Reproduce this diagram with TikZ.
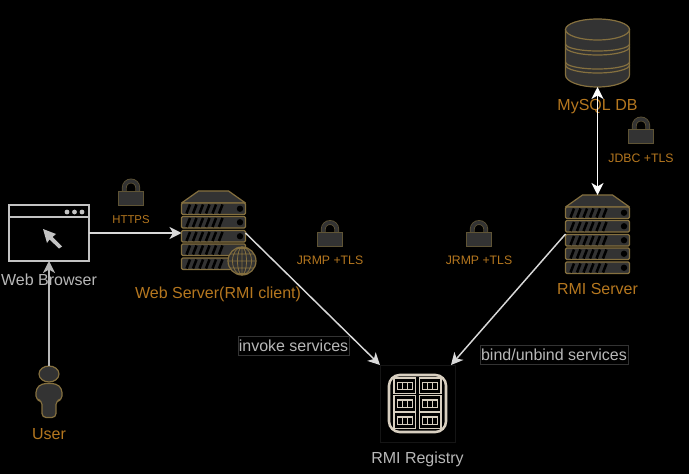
\documentclass[tikz,border=0pt]{standalone}
\usepackage{fontspec}
\setmainfont{Liberation Sans}
\usepackage{xcolor}
\usetikzlibrary{arrows.meta}
\definecolor{iconfill}{HTML}{333333}
\definecolor{icongold}{HTML}{85703F}
\definecolor{lockgold}{HTML}{5F5435}
\definecolor{textgold}{HTML}{B5771F}
\definecolor{textgrey}{HTML}{B8B8B8}
\definecolor{registryline}{HTML}{D8CFC0}
\definecolor{registryedge}{HTML}{151515}
\tikzstyle{iconbox} = [rectangle,inner sep=0pt,outer sep=0pt]
\tikzstyle{caption} = [inner sep=0pt,text=textgold,font=\fontsize{12pt}{14pt}\selectfont]
\tikzstyle{smallcaption} = [inner sep=0pt,text=textgold,font=\fontsize{8.5pt}{10pt}\selectfont]
\tikzstyle{widecaption} = [inner sep=0pt,text=textgold,font=\fontsize{9.2pt}{10pt}\selectfont]
\tikzstyle{linklabel} = [rectangle,draw=iconfill,line width=0.5pt,fill=black,text=textgrey,inner sep=0pt,minimum height=14.25pt,font=\fontsize{12pt}{14pt}\selectfont]
\tikzstyle{icon} = [draw=icongold,fill=iconfill,line width=0.9pt,line join=round]
\tikzstyle{arrow} = [line width=1.1pt,draw=#1,-{Stealth[length=9pt,width=9pt,inset=2.6pt]}]
\tikzset{
  serverpic/.pic={
    \draw [icon] (-32,-27) -- (-15,-39) -- (15,-39) -- (32,-27) -- cycle;
    \foreach \rowy in {-27,-13.5,0.5,14,28} {
      \draw [icon,rounded corners=1pt] (-32,\rowy) rectangle (32,\rowy+11.5);
      \foreach \slashx in {-27,-20.5,-14,-7.5,-1,5.5}
        \draw [black,line width=1.9pt] (\slashx,\rowy+10.5) -- (\slashx+3.5,\rowy+1.5);
      \fill [black] (26.5,\rowy+5.75) circle (3.2);
    }
  },
  globepic/.pic={
    \draw [icon] (0,0) circle (14);
    \draw [icongold,line width=0.6pt] (0,-14) -- (0,14) (-14,0) -- (14,0)
      (0,0) ellipse (4.5 and 14) (0,0) ellipse (9.5 and 14)
      (-12,-7) -- (12,-7) (-12,7) -- (12,7) (-6,-12.5) -- (6,-12.5) (-6,12.5) -- (6,12.5);
  },
  lockpic/.pic={
    \draw [lockgold,line width=3.6pt] (-6.7,0) -- (-6.7,-5) arc (180:360:6.7 and 6.5) -- (6.7,0);
    \draw [iconfill,line width=2.4pt] (-6.7,0) -- (-6.7,-5) arc (180:360:6.7 and 6.5) -- (6.7,0);
    \draw [fill=iconfill,draw=lockgold,line width=0.6pt] (-12.5,-1.5) rectangle (12.5,12.5);
  },
  dbpic/.pic={
    \draw [icon] (-32,-23.5) -- (-32,22) arc (180:0:32 and 12) -- (32,-23.5) -- cycle;
    \draw [icon] (0,-23.5) ellipse (32 and 10.5);
    \foreach \bandy/\bandr in {-9/7,-6/8,9/7,12/8}
      \draw [icongold,line width=0.9pt] (-32,\bandy) arc (180:0:32 and \bandr);
  },
  userpic/.pic={
    \draw [icon] (0,-17.5) ellipse (10 and 8);
    \draw [icon,rounded corners=3pt] (-7,-8) -- (7,-8) -- (13,-3) -- (13,8.5) -- (7,9) -- (7,26) -- (-7,26) -- (-7,9) -- (-13,8.5) -- (-13,-3) -- cycle;
  },
  browserpic/.pic={
    \draw [textgrey!85!white,line width=1.4pt] (-40,-28) rectangle (40,28) (-40,-16) -- (40,-16);
    \foreach \dotx in {18,25.5,33}
      \fill [textgrey!85!white] (\dotx,-21) circle (2.4);
    \fill [textgrey!85!white] (-6,-4) -- (7,1) -- (3.5,4) -- (13,13.5) -- (10,15.5) -- (0.5,6.5) -- (-2,10) -- cycle;
  },
  registrypic/.pic={
    \draw [registryline,line width=1.9pt,rounded corners=8pt] (-28.5,-28.5) rectangle (28.5,28.5);
    \foreach \celly in {-17.8,0,17} \foreach \cellx in {-12.75,12.75} {
      \draw [registryline,line width=1.1pt] (\cellx-10.8,\celly-7.8) rectangle (\cellx+10.8,\celly+7.8);
      \draw [registryline,line width=0.9pt] (\cellx-7.5,\celly-3.6) rectangle (\cellx+7.5,\celly+3.6)
        (\cellx-2.5,\celly-3.6) -- (\cellx-2.5,\celly+3.6) (\cellx+2.5,\celly-3.6) -- (\cellx+2.5,\celly+3.6);
    }
  }
}
\begin{document}
\begin{tikzpicture}[x=0.75pt,y=-0.75pt]
\fill [black] (0,0) rectangle (689,474);
\useasboundingbox (0,0) rectangle (689,474);

% icons
\node (browser) [iconbox,minimum width=60pt,minimum height=42pt] at (49,233) {};
\node (webserver) [iconbox,minimum width=48pt,minimum height=58.5pt] at (213.5,230) {};
\node (rmiserver) [iconbox,minimum width=48pt,minimum height=58.5pt] at (597.5,234) {};
\node (mysql) [iconbox,minimum width=48pt,minimum height=51pt] at (597.5,53) {};
\node (user) [iconbox,minimum width=19.5pt,minimum height=38.25pt] at (49,391.5) {};
\node (registry) [iconbox,draw=registryedge,line width=0.4pt,fill=black,minimum width=56.25pt,minimum height=57.75pt] at (417.5,403.5) {};
\node (lockhttps) [iconbox,minimum width=19.5pt,minimum height=20pt] at (131,192.5) {};
\node (lockclient) [iconbox,minimum width=19.5pt,minimum height=20pt] at (330,234) {};
\node (lockserver) [iconbox,minimum width=19.5pt,minimum height=20pt] at (479,234) {};
\node (lockdb) [iconbox,minimum width=19.5pt,minimum height=20pt] at (641,130.5) {};

\pic at (browser) {browserpic};
\pic at (webserver) {serverpic};
\pic at (242,261) {globepic};
\pic at (rmiserver) {serverpic};
\pic at (mysql) {dbpic};
\pic at (user) {userpic};
\pic at (registry) {registrypic};
\foreach \lockname in {lockhttps,lockclient,lockserver,lockdb}
  \pic at (\lockname) {lockpic};

% captions
\node (browsertext) [caption,text=textgrey,below of=browser,node distance=35.25pt] {Web Browser};
\node (webservertext) [caption,below of=webserver,node distance=48pt,xshift=3.4pt] {Web Server(RMI client)};
\node (rmiservertext) [caption,below of=rmiserver,node distance=41.25pt] {RMI Server};
\node (mysqltext) [caption,below of=mysql,node distance=40.2pt] {MySQL DB};
\node (usertext) [caption,below of=user,node distance=32pt] {User};
\node (registrytext) [caption,text=textgrey,below of=registry,node distance=41.6pt] {RMI Registry};
\node (httpstext) [smallcaption,below of=lockhttps,node distance=20pt] {HTTPS};
\node (clienttext) [widecaption,below of=lockclient,node distance=20pt] {JRMP +TLS};
\node (servertext) [widecaption,below of=lockserver,node distance=20pt] {JRMP +TLS};
\node (jdbctext) [widecaption,below of=lockdb,node distance=20.5pt] {JDBC +TLS};

% connectors
\draw [arrow=textgrey] (user.north) -- (browser.south);
\draw [arrow=white!85!black] (browser.east) -- (browser.east -| webserver.west);
\draw [arrow=white!85!black] ([yshift=-2.25pt]webserver.east) -- (registry.north west);
\draw [arrow=white!85!black] (rmiserver.west) -- ([xshift=-3pt]registry.north east);
\draw [arrow=white,{Stealth[length=9pt,width=9pt,inset=2.6pt]}-{Stealth[length=9pt,width=9pt,inset=2.6pt]}] (mysql.south) -- (rmiserver.north);

% labels on the links
\node (invoketext) [linklabel,minimum width=83pt] at (293.5,345.5) {invoke services};
\node (bindtext) [linklabel,minimum width=111pt] at (554,354.5) {bind/unbind services};
\end{tikzpicture}
\end{document}
